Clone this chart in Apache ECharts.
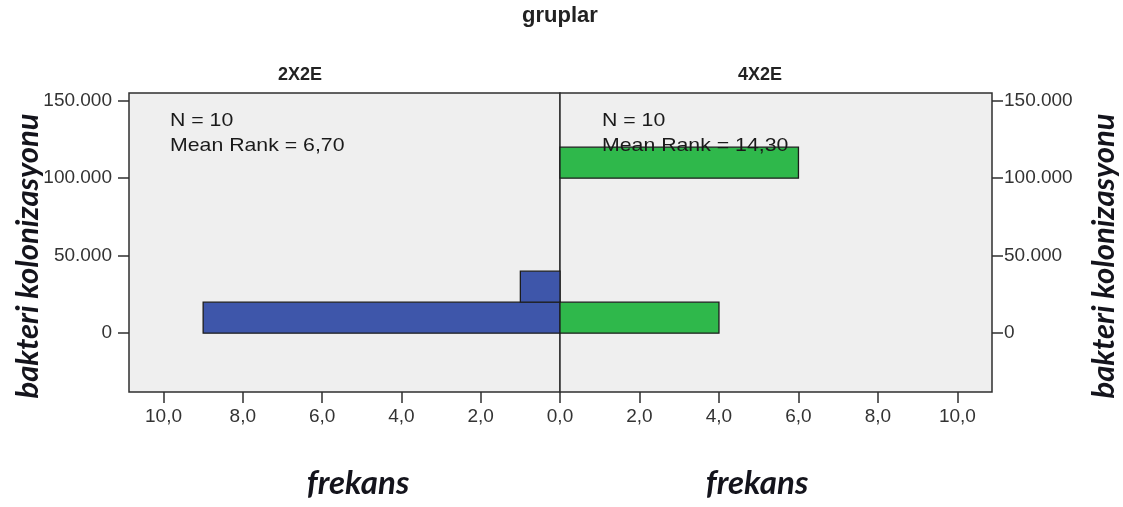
<!DOCTYPE html>
<html>
<head>
<meta charset="utf-8">
<title>gruplar</title>
<script src="https://cdn.jsdelivr.net/npm/echarts@6/dist/echarts.min.js"></script>
<style>
  html, body { margin: 0; padding: 0; background: #ffffff; }
  #chart { width: 1123px; height: 507px; }
</style>
</head>
<body>
<div id="chart"></div>
<script>
// Groups and their histogram bins (bakteri kolonizasyonu), frequencies per bin
const groups = ['2X2E', '4X2E'];
const binStart2X2E = [0, 20000];
const binEnd2X2E = [20000, 40000];
const freq2X2E = [9, 1];
const binStart4X2E = [0, 100000];
const binEnd4X2E = [20000, 120000];
const freq4X2E = [4, 6];
const nCounts = [10, 10];
const meanRanks = ['6,70', '14,30'];

// Axis ticks (the shared 0,0 label is printed once, by the right panel)
const freqTicks = [0, 2, 4, 6, 8, 10];
const freqLabelsLeft = [2, 4, 6, 8, 10];
const valueTicks = [0, 50000, 100000, 150000];
const freqRange = [0, 10.87];
const valueRange = [-38000, 155000];

const rows = (s, e, f) => s.map((v, i) => [v, e[i], f[i]]);

const fmtThousands = v => String(v).replace(/\B(?=(\d{3})+(?!\d))/g, '.');
const fmtFreq = v => v.toFixed(1).replace('.', ',');

const fillColors = ['#3e56aa', '#2fb84b'];
const frame = '#2f2f2f';
const tickFont = { fontFamily: 'Liberation Sans, Arial, sans-serif', fontSize: 19, color: '#333' };

function renderBin(params, api) {
  const a = api.coord([0, api.value(0)]);
  const b = api.coord([api.value(2), api.value(1)]);
  return {
    type: 'rect',
    shape: {
      x: Math.min(a[0], b[0]),
      y: Math.min(a[1], b[1]),
      width: Math.abs(b[0] - a[0]),
      height: Math.abs(b[1] - a[1])
    },
    style: { fill: fillColors[params.seriesIndex], stroke: '#1c1c1c', lineWidth: 1.3 }
  };
}

function xAxisFor(gridIndex, inverse, labelValues) {
  return {
    type: 'value', gridIndex, inverse, position: 'bottom',
    min: freqRange[0], max: freqRange[1],
    axisLine: { show: false, onZero: false },
    splitLine: { show: false },
    axisTick: { show: true, length: 11, customValues: freqTicks, lineStyle: { color: frame, width: 1.5 } },
    axisLabel: Object.assign({ customValues: labelValues, formatter: fmtFreq, margin: 15 }, tickFont)
  };
}

function yAxisFor(gridIndex, position, margin) {
  return {
    type: 'value', gridIndex, position,
    min: valueRange[0], max: valueRange[1],
    axisLine: { show: false, onZero: false },
    splitLine: { show: false },
    axisTick: { show: true, length: 11, customValues: valueTicks, lineStyle: { color: frame, width: 1.5 } },
    axisLabel: Object.assign({ customValues: valueTicks, formatter: fmtThousands, margin }, tickFont)
  };
}

const axisNameStyle = {
  text: 'bakteri kolonizasyonu',
  font: 'italic bold 31px Lato, "Open Sans", sans-serif',
  fill: '#14141c',
  textAlign: 'center',
  textVerticalAlign: 'middle'
};
const freqNameStyle = {
  text: 'frekans',
  font: 'italic bold 33px Lato, "Open Sans", sans-serif',
  fill: '#14141c',
  textAlign: 'center',
  textVerticalAlign: 'middle'
};
const statFont = '19px "Liberation Sans", Arial, sans-serif';
const statText = (x, y, text) => ({
  type: 'text', x, y, z: 100, scaleX: 1.12,
  style: { text, font: statFont, fill: '#1a1a1a', textVerticalAlign: 'middle' }
});

const chart = echarts.init(document.getElementById('chart'), null, { renderer: 'canvas' });
chart.setOption({
  animation: false,
  backgroundColor: '#ffffff',
  grid: [
    { left: 129, top: 93, width: 431, height: 299, show: true, backgroundColor: '#efefef', borderColor: frame, borderWidth: 1.5 },
    { left: 560, top: 93, width: 432, height: 299, show: true, backgroundColor: '#efefef', borderColor: frame, borderWidth: 1.5 }
  ],
  xAxis: [xAxisFor(0, true, freqLabelsLeft), xAxisFor(1, false, freqTicks)],
  yAxis: [yAxisFor(0, 'left', 17), yAxisFor(1, 'right', 12)],
  series: [
    { type: 'custom', name: groups[0], xAxisIndex: 0, yAxisIndex: 0, renderItem: renderBin,
      encode: { x: 2, y: [0, 1] }, data: rows(binStart2X2E, binEnd2X2E, freq2X2E) },
    { type: 'custom', name: groups[1], xAxisIndex: 1, yAxisIndex: 1, renderItem: renderBin,
      encode: { x: 2, y: [0, 1] }, data: rows(binStart4X2E, binEnd4X2E, freq4X2E) }
  ],
  graphic: [
    { type: 'text', x: 560, y: 16, style: { text: 'gruplar', font: 'bold 22px "Liberation Sans", Arial, sans-serif', fill: '#222', textAlign: 'center', textVerticalAlign: 'middle' } },
    { type: 'text', x: 300, y: 75, style: { text: groups[0], font: 'bold 18px "Liberation Sans", Arial, sans-serif', fill: '#222', textAlign: 'center', textVerticalAlign: 'middle' } },
    { type: 'text', x: 760, y: 75, style: { text: groups[1], font: 'bold 18px "Liberation Sans", Arial, sans-serif', fill: '#222', textAlign: 'center', textVerticalAlign: 'middle' } },
    statText(170, 121, 'N = ' + nCounts[0]),
    statText(170, 146, 'Mean Rank = ' + meanRanks[0]),
    statText(602, 121, 'N = ' + nCounts[1]),
    statText(602, 146, 'Mean Rank = ' + meanRanks[1]),
    { type: 'text', x: 28, y: 256, rotation: Math.PI / 2, style: axisNameStyle },
    { type: 'text', x: 1104, y: 256, rotation: Math.PI / 2, style: axisNameStyle },
    { type: 'text', x: 358, y: 483, style: freqNameStyle },
    { type: 'text', x: 757, y: 483, style: freqNameStyle }
  ]
});
</script>
</body>
</html>
